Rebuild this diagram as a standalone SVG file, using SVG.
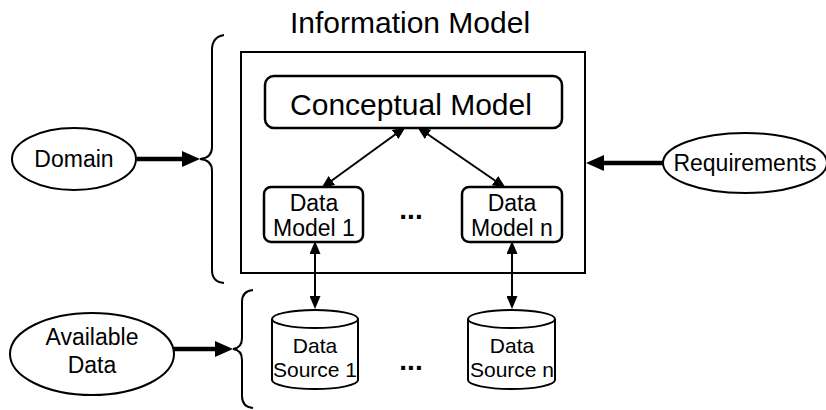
<svg xmlns="http://www.w3.org/2000/svg" width="826" height="410" viewBox="0 0 826 410">
<style>
  text { font-family: "Liberation Sans", Arial, sans-serif; fill: #000; text-anchor: middle; }
  .big { font-size: 30px; }
  .lbl { font-size: 23px; }
  .src { font-size: 21px; }
  .dots { font-size: 28px; font-weight: bold; }
  .box { fill: #fff; stroke: #000; stroke-width: 2; }
  .rbox { fill: #fff; stroke: #000; stroke-width: 2.5; }
  .thin { fill: none; stroke: #000; stroke-width: 2; }
  .thick { fill: none; stroke: #000; stroke-width: 4.5; }
  .brace { fill: none; stroke: #000; stroke-width: 2; }
</style>
<defs>
  <marker id="bigHead" viewBox="0 0 18 16" refX="9" refY="8" markerWidth="18" markerHeight="16" markerUnits="userSpaceOnUse" orient="auto">
    <path d="M0,0 L18,8 L0,16 z" fill="#000"/>
  </marker>
  <marker id="smallHead" viewBox="0 0 13 11" refX="6" refY="5.5" markerWidth="13" markerHeight="11" markerUnits="userSpaceOnUse" orient="auto-start-reverse">
    <path d="M0,0 L13,5.5 L0,11 z" fill="#000"/>
  </marker>
</defs>

<g id="title">
  <text class="big" x="410" y="33">Information Model</text>
</g>

<g id="braces">
  <path class="brace" d="M224,35 Q212,37 212,50 L212,147 Q212,158 200,159 Q212,160 212,171 L212,270 Q212,282 224,283"/>
  <path class="brace" d="M253,290 Q242,291 242,302 L242,338 Q242,348 233,349 Q242,350 242,360 L242,396 Q242,407 253,408"/>
</g>

<g id="information-model">
  <rect class="box" x="241" y="52" width="344" height="221"/>
</g>

<g id="conceptual-model">
  <rect class="rbox" x="265" y="76" width="297" height="52" rx="9"/>
  <text class="big" x="411" y="115">Conceptual Model</text>
</g>

<g id="data-model-1">
  <rect class="rbox" x="264" y="187" width="99" height="55" rx="7"/>
  <text class="lbl" x="314" y="211">Data</text>
  <text class="lbl" x="314" y="236">Model 1</text>
</g>

<g id="data-model-n">
  <rect class="rbox" x="462" y="187" width="100" height="55" rx="7"/>
  <text class="lbl" x="512" y="211">Data</text>
  <text class="lbl" x="512" y="236">Model n</text>
</g>

<g id="dots-models">
  <text class="dots" x="411" y="219">...</text>
</g>

<g id="data-source-1">
  <path class="box" d="M272,319 A43,9 0 0 1 358,319 L358,380 A43,9 0 0 1 272,380 Z"/>
  <path class="thin" d="M272,319 A43,9 0 0 0 358,319"/>
  <text class="src" x="315" y="353">Data</text>
  <text class="src" x="315" y="377">Source 1</text>
</g>

<g id="data-source-n">
  <path class="box" d="M468,319 A43.5,9 0 0 1 555,319 L555,380 A43.5,9 0 0 1 468,380 Z"/>
  <path class="thin" d="M468,319 A43.5,9 0 0 0 555,319"/>
  <text class="src" x="512" y="353">Data</text>
  <text class="src" x="512" y="377">Source n</text>
</g>

<g id="dots-sources">
  <text class="dots" x="411" y="370">...</text>
</g>

<g id="domain">
  <ellipse class="box" cx="74" cy="159" rx="62" ry="31"/>
  <text class="lbl" x="74" y="167">Domain</text>
</g>

<g id="requirements">
  <ellipse class="box" cx="745" cy="163" rx="82" ry="30"/>
  <text class="lbl" x="745" y="171">Requirements</text>
</g>

<g id="available-data">
  <ellipse class="box" cx="92" cy="354" rx="82" ry="41"/>
  <text class="lbl" x="92" y="345">Available</text>
  <text class="lbl" x="92" y="373">Data</text>
</g>

<g id="connectors">
  <line class="thick" x1="137" y1="159" x2="191" y2="159" marker-end="url(#bigHead)"/>
  <line class="thick" x1="663" y1="163" x2="595" y2="163" marker-end="url(#bigHead)"/>
  <line class="thick" x1="174" y1="349" x2="224" y2="349" marker-end="url(#bigHead)"/>
  <line class="thin" x1="400" y1="131" x2="327" y2="184" marker-start="url(#smallHead)" marker-end="url(#smallHead)"/>
  <line class="thin" x1="423" y1="131" x2="500" y2="184" marker-start="url(#smallHead)" marker-end="url(#smallHead)"/>
  <line class="thin" x1="315" y1="248" x2="315" y2="302" marker-start="url(#smallHead)" marker-end="url(#smallHead)"/>
  <line class="thin" x1="512" y1="248" x2="512" y2="302" marker-start="url(#smallHead)" marker-end="url(#smallHead)"/>
</g>
</svg>
